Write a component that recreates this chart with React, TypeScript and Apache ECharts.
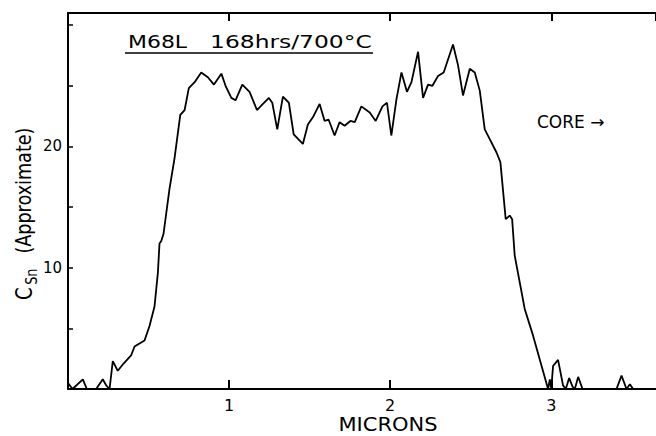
import React, { useEffect, useRef } from "react";
import * as echarts from "echarts";

// Distance from the surface (microns)
const microns = [
  0.0, 0.028, 0.092, 0.117, 0.175, 0.216, 0.237, 0.258, 0.278, 0.309, 0.345, 0.393, 0.413,
  0.475, 0.506, 0.537, 0.558, 0.568, 0.579, 0.593, 0.63, 0.661, 0.697, 0.724, 0.75, 0.786,
  0.827, 0.868, 0.906, 0.952, 0.978, 1.014, 1.04, 1.082, 1.127, 1.173, 1.21, 1.247, 1.268,
  1.299, 1.334, 1.371, 1.401, 1.458, 1.489, 1.52, 1.562, 1.593, 1.618, 1.655, 1.686, 1.717,
  1.753, 1.78, 1.821, 1.873, 1.91, 1.952, 1.98, 2.007, 2.039, 2.07, 2.104, 2.132, 2.173,
  2.204, 2.235, 2.262, 2.297, 2.332, 2.39, 2.421, 2.452, 2.494, 2.525, 2.556, 2.587, 2.618,
  2.66, 2.684, 2.717, 2.742, 2.757, 2.773, 2.835, 2.887, 2.98, 2.991, 3.0, 3.011, 3.042,
  3.073, 3.09, 3.111, 3.132, 3.146, 3.167, 3.194, 3.405, 3.436, 3.467, 3.488, 3.508, 3.65,
];

// Sn concentration (approximate)
const csn = [
  0.5, 0, 0.8, 0, 0, 0.8, 0.3, 0, 2.3, 1.5, 2.1, 2.8, 3.5,
  4.0, 5.2, 6.8, 9.6, 12.0, 12.2, 12.8, 16.5, 19.0, 22.6, 23.0, 24.8, 25.3,
  26.1, 25.7, 25.1, 26.0, 25.0, 24.0, 23.8, 25.1, 24.5, 23.0, 23.5, 24.0, 23.6,
  21.4, 24.1, 23.6, 21.0, 20.2, 21.8, 22.4, 23.5, 22.1, 22.2, 20.9, 22.0, 21.7,
  22.1, 22.0, 23.3, 22.8, 22.1, 23.3, 23.6, 20.9, 23.9, 26.1, 24.5, 25.3, 27.8,
  24.0, 25.1, 25.0, 25.8, 26.1, 28.4, 26.7, 24.2, 26.4, 26.1, 24.6, 21.4, 20.6,
  19.5, 18.7, 14.0, 14.3, 14.0, 11.0, 6.6, 4.4, 0, 0.8, 0, 1.9, 2.4,
  0.3, 0, 0.9, 0.2, 0, 1.0, 0, 0, 1.1, 0, 0.4, 0, 0,
];

const xLabels = ["1", "2", "3"];
const yLabels = ["10", "20"];

const FONT = "DejaVu Sans";

export default function App() {
  const ref = useRef<HTMLDivElement>(null);

  useEffect(() => {
    if (!ref.current) return;
    const chart = echarts.init(ref.current, null, { renderer: "svg" });
    const data = microns.map((m, i) => [m, csn[i]]);
    const axisLine = { show: true, lineStyle: { color: "#000", width: 2 } };
    chart.setOption({
      animation: false,
      backgroundColor: "#fff",
      grid: { left: 68, right: 0, top: 13, bottom: 47, containLabel: false },
      xAxis: [
        {
          type: "value",
          position: "bottom",
          min: 0,
          max: 3.65,
          interval: 1,
          splitLine: { show: false },
          axisLine,
          axisTick: { show: true, inside: true, length: 9, lineStyle: { color: "#000", width: 2 } },
          axisLabel: {
            show: true,
            margin: 8,
            color: "#000",
            fontFamily: FONT,
            fontSize: 16,
            showMaxLabel: false,
            formatter: (v: number) => (xLabels.includes(String(v)) ? String(v) : ""),
          },
        },
        {
          type: "value",
          position: "top",
          min: 0,
          max: 3.65,
          interval: 1,
          splitLine: { show: false },
          axisLine,
          axisTick: { show: true, inside: true, length: 8, lineStyle: { color: "#000", width: 2 } },
          axisLabel: { show: false },
        },
      ],
      yAxis: {
        type: "value",
        min: 0,
        max: 31,
        interval: 5,
        splitLine: { show: false },
        axisLine,
        axisTick: { show: true, inside: true, length: 5, lineStyle: { color: "#000", width: 1.5 } },
        axisLabel: {
          margin: 6,
          color: "#000",
          fontFamily: FONT,
          fontSize: 15,
          showMaxLabel: false,
          formatter: (v: number) => (yLabels.includes(String(v)) ? String(v) : ""),
        },
      },
      series: [
        {
          type: "line",
          xAxisIndex: 0,
          data,
          symbol: "none",
          lineStyle: { color: "#000", width: 1.8 },
          clip: true,
        },
      ],
      graphic: [
        {
          type: "text",
          x: 128,
          y: 42,
          scaleX: 1.22,
          style: { text: "M68L", fontFamily: FONT, fontSize: 18, fill: "#000", verticalAlign: "middle" },
        },
        {
          type: "text",
          x: 210,
          y: 42,
          scaleX: 1.3,
          style: { text: "168hrs/700°C", fontFamily: FONT, fontSize: 18, fill: "#000", verticalAlign: "middle" },
        },
        {
          type: "line",
          shape: { x1: 125, y1: 53, x2: 373, y2: 53 },
          style: { stroke: "#000", lineWidth: 1.5 },
        },
        {
          type: "text",
          x: 537,
          y: 122,
          style: { text: "CORE →", fontFamily: FONT, fontSize: 17, fill: "#000", verticalAlign: "middle" },
        },
        {
          type: "text",
          x: 388,
          y: 424,
          scaleX: 1.05,
          style: {
            text: "MICRONS",
            fontFamily: FONT,
            fontSize: 20,
            fill: "#000",
            align: "center",
            verticalAlign: "middle",
          },
        },
        {
          type: "group",
          x: 24,
          y: 300,
          rotation: Math.PI / 2,
          scaleX: 0.8,
          children: [
            {
              type: "text",
              x: 0,
              y: 0,
              style: { text: "C", fontFamily: FONT, fontSize: 23, fill: "#000", verticalAlign: "middle" },
            },
            {
              type: "text",
              x: 19,
              y: 7,
              style: { text: "Sn", fontFamily: FONT, fontSize: 16, fill: "#000", verticalAlign: "middle" },
            },
            {
              type: "text",
              x: 58,
              y: 0,
              style: {
                text: "(Approximate)",
                fontFamily: FONT,
                fontSize: 22,
                fill: "#000",
                verticalAlign: "middle",
              },
            },
          ],
        },
      ],
    });
    return () => chart.dispose();
  }, []);

  return (
    <div
      ref={ref}
      style={{ position: "fixed", left: 0, top: 0, width: 656, height: 436, background: "#fff" }}
    />
  );
}
